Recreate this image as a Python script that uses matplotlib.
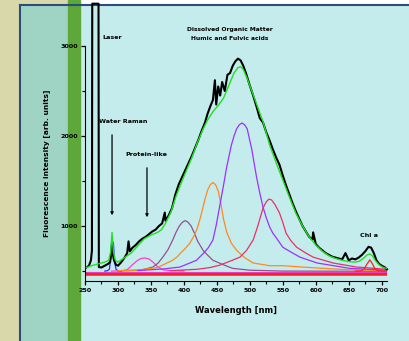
# Laser-induced fluorescence spectrum with fitted peak components

import matplotlib.pyplot as plt
from matplotlib.patches import Rectangle
from matplotlib.lines import Line2D
from matplotlib.ticker import MultipleLocator


# ── 1. Data ─────────────────────────────────────────────────
# measured spectrum (black)
meas_wl = [252, 256, 259, 260.5, 261, 270.5, 271, 275, 280, 285, 288, 290, 291, 292, 294, 297,
           300, 305, 310, 314, 316, 318, 322, 327, 332, 337, 342, 347, 352, 357, 362, 367,
           371, 372, 377, 382, 387, 392, 397, 402, 407, 412, 417, 422, 427, 432, 436, 440,
           444, 447, 449, 452, 455, 458, 462, 466, 470, 474, 478, 482, 486, 490, 494, 500,
           505, 510, 515, 520, 525, 530, 535, 540, 545, 550, 555, 560, 565, 570, 575, 580,
           585, 590, 595, 596, 600, 605, 610, 615, 620, 625, 630, 635, 640, 645, 650, 655,
           660, 665, 670, 675, 680, 684, 688, 692, 696, 700, 705, 708]
meas_int = [540, 560, 620, 730, 3470, 3470, 545, 540, 560, 580, 600, 700, 780, 700, 620, 570,
            560, 600, 650, 700, 830, 720, 760, 790, 830, 860, 880, 910, 940, 960, 1000, 1030,
            1150, 1060, 1120, 1200, 1350, 1460, 1540, 1620, 1700, 1780, 1870, 1960, 2060, 2150, 2250, 2330,
            2400, 2620, 2350, 2550, 2450, 2600, 2500, 2680, 2700, 2780, 2830, 2860, 2840, 2780, 2700, 2560,
            2450, 2330, 2200, 2150, 2040, 1950, 1850, 1760, 1680, 1560, 1450, 1350, 1250, 1160, 1080, 1000,
            940, 880, 850, 930, 800, 760, 730, 700, 680, 660, 650, 640, 630, 700, 620, 640,
            630, 650, 680, 720, 770, 760, 700, 620, 580, 560, 540, 520]

# total fit (green)
fit_wl = [252, 260, 270, 280, 286, 289, 291, 293, 296, 300, 310, 320, 330, 340, 350, 360,
          366, 372, 380, 388, 396, 404, 412, 420, 428, 436, 444, 452, 460, 468, 476, 482,
          486, 490, 496, 502, 508, 514, 520, 530, 540, 550, 560, 570, 580, 590, 600, 610,
          620, 630, 640, 650, 660, 666, 672, 678, 682, 686, 690, 696, 702, 708]
fit_int = [540, 560, 580, 600, 620, 720, 930, 720, 620, 600, 650, 700, 780, 860, 900, 930,
           960, 1030, 1150, 1330, 1480, 1620, 1760, 1920, 2060, 2180, 2270, 2340, 2420, 2560, 2700, 2760,
           2770, 2740, 2640, 2520, 2400, 2280, 2160, 1900, 1700, 1510, 1320, 1140, 1000, 880, 790, 720,
           670, 640, 620, 605, 600, 610, 640, 680, 690, 670, 620, 570, 540, 530]

# fitted components
raman_wl = [280, 284, 287, 289, 290, 291, 292, 293, 295, 297, 300, 305]
raman_int = [500, 505, 520, 650, 800, 840, 760, 820, 600, 520, 505, 500]

protein_wl = [290, 305, 314, 322, 329, 335, 341, 347, 353, 360, 368, 380, 400]
protein_int = [500, 502, 515, 570, 615, 640, 645, 635, 600, 550, 515, 505, 502]

c400_wl = [300, 330, 340, 353, 361, 368, 376, 383, 388, 393, 398, 402, 406, 411, 416, 421,
           430, 444, 460, 474, 500, 550, 708]
c400_int = [502, 510, 520, 545, 590, 655, 740, 845, 930, 1000, 1045, 1060, 1045, 1000, 920, 830,
            720, 620, 570, 530, 510, 500, 498]

c445_wl = [300, 330, 360, 383, 390, 395, 402, 409, 416, 420, 424, 428, 432, 436, 440, 444,
           448, 452, 456, 460, 465, 472, 480, 492, 505, 530, 550, 600, 650, 708]
c445_int = [505, 510, 540, 620, 660, 700, 750, 810, 900, 970, 1067, 1180, 1300, 1400, 1460, 1484,
            1460, 1390, 1250, 1080, 930, 810, 730, 650, 590, 560, 560, 535, 515, 505]

c488_wl = [330, 370, 394, 419, 430, 437, 444, 449, 454, 460, 465, 472, 476, 480, 484, 488,
           492, 496, 499, 503, 506, 510, 515, 520, 525, 530, 535, 540, 550, 565, 576, 602,
           652, 708]
c488_int = [505, 525, 545, 620, 700, 760, 845, 1010, 1210, 1450, 1660, 1900, 2000, 2080, 2125, 2145,
            2125, 2080, 1980, 1850, 1720, 1550, 1370, 1210, 1090, 990, 920, 870, 765, 700, 655, 590,
            530, 510]

c530_wl = [380, 420, 440, 454, 470, 485, 495, 505, 512, 520, 525, 529, 533, 538, 545, 550,
           555, 562, 571, 585, 596, 626, 662, 708]
c530_int = [505, 520, 540, 565, 610, 655, 730, 845, 1000, 1200, 1270, 1300, 1290, 1240, 1145, 1040,
            920, 840, 765, 700, 655, 590, 545, 520]

chl_wl = [660, 668, 673, 677, 682, 686, 690, 695, 708]
chl_int = [500, 502, 520, 570, 625, 580, 520, 502, 500]

base_wl = [252, 708]
base_int = [470, 470]
base2_int = [492, 492]

x_ticks = [250, 300, 350, 400, 450, 500, 550, 600, 650, 700]
y_ticks = [1000, 2000, 3000]


# ── 2. Figure and background panels ─────────────────────────
W, H = 410, 341
fig = plt.figure(figsize=(W / 100, H / 100), dpi=100)
fig.patch.set_facecolor("white")


def px_rect(x0, y0, x1, y1, color):
    fig.patches.append(Rectangle((x0 / W, 1 - y1 / H), (x1 - x0) / W, (y1 - y0) / H,
                                 transform=fig.transFigure, color=color, zorder=-2))


px_rect(0, 0, 68, 341, "#d8d8aa")
px_rect(20, 5, 68, 341, "#9fd4c4")
px_rect(80, 5, 410, 341, "#c4ecec")
fig.lines.append(Line2D([20 / W, 1], [1 - 5 / H, 1 - 5 / H], transform=fig.transFigure,
                        color="#2b4d7d", lw=1.5, zorder=-1))
fig.lines.append(Line2D([20 / W, 20 / W], [0, 1 - 5 / H], transform=fig.transFigure,
                        color="#2b4d7d", lw=1.5, zorder=-1))
px_rect(68, 0, 80, 341, "#5ea83a")


# ── 3. Plot ──────────────────────────────────────────────────
ax = fig.add_axes([85 / W, 1 - 281 / H, (387 - 85) / W, (281 - 46) / H])
ax.set_zorder(5)
ax.patch.set_alpha(0)

lw = 0.9
ax.plot(base_wl, base_int, color="#ff1e1e", lw=2.6)
ax.plot(base_wl, base2_int, color="#e040c0", lw=0.8)
ax.plot(raman_wl, raman_int, color="#1f35ff", lw=lw)
ax.plot(protein_wl, protein_int, color="#ff3fc8", lw=lw)
ax.plot(c400_wl, c400_int, color="#95508e", lw=lw)
ax.plot(c445_wl, c445_int, color="#ff8a1c", lw=lw)
ax.plot(c488_wl, c488_int, color="#9b32ff", lw=lw)
ax.plot(c530_wl, c530_int, color="#e8306a", lw=lw)
ax.plot(chl_wl, chl_int, color="#ff2020", lw=lw)
ax.plot(meas_wl, meas_int, color="black", lw=1.5, clip_on=False, zorder=3)
ax.plot(fit_wl, fit_int, color="#22e022", lw=1.0, zorder=4)

ax.set_xlim(250, 708)
ax.set_ylim(390, 3000)
ax.spines["top"].set_visible(False)
ax.spines["right"].set_visible(False)
ax.set_xticks(x_ticks)
ax.set_yticks(y_ticks)
ax.xaxis.set_minor_locator(MultipleLocator(25))
ax.yaxis.set_minor_locator(MultipleLocator(500))
ax.tick_params(which="major", length=3, width=0.9, labelsize=4.6, pad=2)
ax.tick_params(which="minor", length=2, width=0.8)
for lab in ax.get_xticklabels() + ax.get_yticklabels():
    lab.set_fontweight("bold")

ax.set_xlabel("Wavelength [nm]", fontsize=6, fontweight="bold")
ax.xaxis.set_label_coords(0.5, -0.105)
ax.set_ylabel("Fluorescence intensity [arb. units]", fontsize=5.4, fontweight="bold")
ax.yaxis.set_label_coords(-0.115, 0.5)

# ── 4. Annotations ───────────────────────────────────────────
tkw = dict(fontsize=4.6, fontweight="bold", va="center")
ax.text(276, 3089, "Laser", ha="left", **tkw)
ax.text(271, 2167, "Water Raman", ha="left", **tkw)
ax.text(311, 1800, "Protein-like", ha="left", **tkw)
ax.text(470, 3178, "Dissolved Organic Matter", ha="center", fontsize=4.3,
        fontweight="bold", va="center")
ax.text(470, 3078, "Humic and Fulvic acids", ha="center", fontsize=4.3,
        fontweight="bold", va="center")
ax.text(667, 900, "Chl a", ha="left", **tkw)

akw = dict(arrowstyle="-|>", color="black", lw=0.9, mutation_scale=4)
ax.annotate("", xy=(291, 1089), xytext=(291, 2044), arrowprops=akw)
ax.annotate("", xy=(344, 1067), xytext=(344, 1678), arrowprops=akw)

plt.savefig("out.png", dpi=100)
